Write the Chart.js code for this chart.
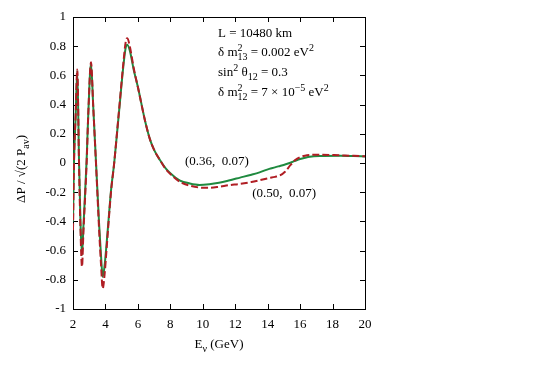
<!DOCTYPE html>
<html>
<head>
<meta charset="utf-8">
<script src="https://cdn.jsdelivr.net/npm/chart.js@4.4.1/dist/chart.umd.min.js"></script>
<style>
  html, body { margin: 0; padding: 0; background: #fff; }
  canvas { display: block; }
</style>
</head>
<body>
<canvas id="chart" width="545" height="382"></canvas>
<script>
// neutrino energy (GeV) sample points
const energies = [2.0, 2.06, 2.16, 2.265, 2.37, 2.46, 2.555, 2.64, 2.84, 2.94, 3.11, 3.25, 3.42, 3.62, 3.73, 3.83,
  3.95, 4.05, 4.17, 4.35, 4.54, 4.82, 5.11, 5.25, 5.35, 5.5, 5.76, 6.0, 6.44, 6.75, 7.0, 7.36, 7.7, 8.0, 8.6,
  9.2, 9.8, 10.4, 11.0, 11.6, 12.3, 13.0, 13.5, 14.1, 14.45, 14.76, 15.07, 15.4, 15.7, 16.0, 16.3, 16.6, 17.2,
  18.5, 19.3, 20.0];
// solid green curve, (0.36, 0.07)
const dpGreen = [-0.40, 0.00, 0.31, 0.63, 0.02, -0.40, -0.63, -0.44, 0.02, 0.33, 0.68, 0.38, 0.00, -0.44, -0.64, -0.78,
  -0.70, -0.58, -0.42, -0.18, 0.00, 0.33, 0.67, 0.79, 0.81, 0.77, 0.63, 0.52, 0.29, 0.16, 0.09, 0.02, -0.035, -0.07, -0.12,
  -0.14, -0.15, -0.145, -0.135, -0.12, -0.10, -0.08, -0.064, -0.04, -0.03, -0.02, -0.01, 0.002, 0.015, 0.027, 0.036, 0.043, 0.048,
  0.05, 0.048, 0.045];
// dashed red curve, (0.50, 0.07)
const dpRed = [-0.46, 0.00, 0.32, 0.64, 0.00, -0.45, -0.71, -0.48, 0.00, 0.33, 0.69, 0.38, -0.01, -0.48, -0.70, -0.86,
  -0.76, -0.62, -0.44, -0.19, 0.00, 0.34, 0.69, 0.83, 0.855, 0.80, 0.64, 0.52, 0.29, 0.16, 0.09, 0.02, -0.04, -0.075, -0.13,
  -0.155, -0.168, -0.17, -0.163, -0.152, -0.143, -0.13, -0.118, -0.103, -0.095, -0.085, -0.06, -0.015, 0.02, 0.04, 0.05, 0.055, 0.057,
  0.052, 0.049, 0.046];

const infoLines = [
  ['L = 10480 km'],
  ['δ m', { sup: '2', sub: '13' }, ' = 0.002 eV', { sup: '2' }],
  ['sin', { sup: '2' }, ' θ', { sub: '12' }, ' = 0.3'],
  ['δ m', { sup: '2', sub: '12' }, ' = 7 × 10', { sup: '−5' }, ' eV', { sup: '2' }]
];
const greenLabel = '(0.36,  0.07)';
const redLabel = '(0.50,  0.07)';
const xTitle = ['E', { sub: 'ν' }, ' (GeV)'];
const yTitle = ['ΔP / √(2 P', { sub: 'av' }, ')'];

const serif = '"Liberation Serif", "Times New Roman", serif';
const fontOf = (s) => s + 'px ' + serif;
const FS = 13;

function partWidth(ctx, p, size) {
  if (typeof p === 'string') {
    ctx.font = fontOf(size);
    return ctx.measureText(p).width;
  }
  ctx.font = fontOf(Math.round(size * 0.77));
  const a = p.sup ? ctx.measureText(p.sup).width : 0;
  const b = p.sub ? ctx.measureText(p.sub).width : 0;
  return Math.max(a, b);
}

function richWidth(ctx, parts, size) {
  return parts.reduce((w, p) => w + partWidth(ctx, p, size), 0);
}

function drawRich(ctx, x, y, parts, size) {
  ctx.textAlign = 'left';
  ctx.textBaseline = 'alphabetic';
  for (const p of parts) {
    if (typeof p === 'string') {
      ctx.font = fontOf(size);
      ctx.fillText(p, x, y);
    } else {
      ctx.font = fontOf(Math.round(size * 0.77));
      if (p.sup) ctx.fillText(p.sup, x, y - size * 0.42);
      if (p.sub) ctx.fillText(p.sub, x, y + size * 0.32);
    }
    x += partWidth(ctx, p, size);
  }
}

// gnuplot-like frame with inward ticks on all four sides
const framePlugin = {
  id: 'frame',
  beforeDatasetsDraw(chart) {
    const { ctx, chartArea: a, scales } = chart;
    ctx.save();
    ctx.strokeStyle = '#000';
    ctx.lineWidth = 1;
    ctx.strokeRect(a.left + 0.5, a.top + 0.5, a.right - a.left, a.bottom - a.top);
    ctx.beginPath();
    scales.x.ticks.forEach((t) => {
      const px = Math.round(scales.x.getPixelForValue(t.value)) + 0.5;
      ctx.moveTo(px, a.bottom); ctx.lineTo(px, a.bottom - 5);
      ctx.moveTo(px, a.top); ctx.lineTo(px, a.top + 5);
    });
    scales.y.ticks.forEach((t) => {
      const py = Math.round(scales.y.getPixelForValue(t.value)) + 0.5;
      ctx.moveTo(a.left, py); ctx.lineTo(a.left + 5, py);
      ctx.moveTo(a.right, py); ctx.lineTo(a.right - 5, py);
    });
    ctx.stroke();
    ctx.restore();
  },
  afterDraw(chart) {
    const { ctx, chartArea: a, scales } = chart;
    ctx.save();
    ctx.fillStyle = '#000';
    // parameter block
    const baselines = [37, 56, 76, 96];
    infoLines.forEach((line, i) => drawRich(ctx, 218, baselines[i], line, FS));
    // curve labels
    drawRich(ctx, scales.x.getPixelForValue(8.9), scales.y.getPixelForValue(-0.014), [greenLabel], FS);
    drawRich(ctx, scales.x.getPixelForValue(13.05), scales.y.getPixelForValue(-0.235), [redLabel], FS);
    // x title
    const cx = (a.left + a.right) / 2;
    drawRich(ctx, cx - richWidth(ctx, xTitle, FS) / 2, 348, xTitle, FS);
    // y title
    ctx.translate(25, 169);
    ctx.rotate(-Math.PI / 2);
    drawRich(ctx, -richWidth(ctx, yTitle, FS) / 2, 0, yTitle, FS);
    ctx.restore();
  }
};

Chart.defaults.color = '#000';
Chart.defaults.font.family = serif;
Chart.defaults.font.size = FS;

new Chart(document.getElementById('chart'), {
  type: 'line',
  data: {
    datasets: [
      {
        label: '(0.36, 0.07)',
        data: energies.map((e, i) => ({ x: e, y: dpGreen[i] })),
        borderColor: '#1f8a3f',
        borderWidth: 2,
        pointRadius: 0,
        cubicInterpolationMode: 'monotone',
        order: 2
      },
      {
        label: '(0.50, 0.07)',
        data: energies.map((e, i) => ({ x: e, y: dpRed[i] })),
        borderColor: '#b01e24',
        borderWidth: 2,
        borderDash: [7, 3],
        pointRadius: 0,
        cubicInterpolationMode: 'monotone',
        order: 1
      }
    ]
  },
  options: {
    responsive: false,
    animation: false,
    layout: { padding: { left: 0, top: 17, right: 180, bottom: 0 } },
    plugins: { legend: { display: false }, tooltip: { enabled: false } },
    scales: {
      x: {
        type: 'linear',
        min: 2,
        max: 20,
        grid: { display: false, drawTicks: false },
        border: { display: false },
        ticks: { stepSize: 2, padding: 8 },
        afterFit: (s) => { s.height = 73; }
      },
      y: {
        min: -1,
        max: 1,
        grid: { display: false, drawTicks: false },
        border: { display: false },
        ticks: { stepSize: 0.2, padding: 7, callback: (v) => String(Number(v.toFixed(1))) },
        afterFit: (s) => { s.width = 73; }
      }
    }
  },
  plugins: [framePlugin]
});
</script>
</body>
</html>
